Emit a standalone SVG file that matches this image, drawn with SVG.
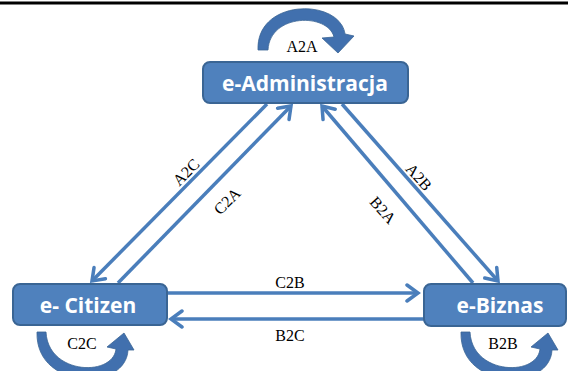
<svg xmlns="http://www.w3.org/2000/svg" width="568" height="371" viewBox="0 0 568 371">
<defs>
<marker id="ah" markerUnits="userSpaceOnUse" markerWidth="30" markerHeight="30" refX="14" refY="10" orient="auto" viewBox="0 0 30 30">
<path d="M3,2 L14,10 L3,18" fill="none" stroke="#4A7EBB" stroke-width="3.5" stroke-linecap="round" stroke-linejoin="miter"/>
</marker>
</defs>
<style>
.box{fill:#4F81BD;stroke:#3A6594;stroke-width:2}
.nt{font-family:"Open Sans","Liberation Sans",sans-serif;font-weight:bold;font-size:21px;fill:#fff;text-anchor:middle}
.conn{stroke:#4A7EBB;stroke-width:3.5;fill:none;marker-end:url(#ah)}
.lbl{font-family:"Liberation Serif","Times New Roman",serif;font-size:16px;fill:#000;text-anchor:middle}
.loop{fill:#4170AE;stroke:#3A6594;stroke-width:0.8}
</style>
<rect x="0" y="0" width="568" height="371" fill="#fff"/>
<line x1="0" y1="3" x2="568" y2="3" stroke="#000" stroke-width="3"/>
<g id="connectors">
<line class="conn" x1="267" y1="104" x2="92" y2="281"/>
<line class="conn" x1="118" y1="283" x2="291" y2="106"/>
<line class="conn" x1="473" y1="283" x2="322" y2="106"/>
<line class="conn" x1="342" y1="104" x2="498" y2="281"/>
<line class="conn" x1="167" y1="293" x2="418" y2="293"/>
<line class="conn" x1="424" y1="319" x2="171" y2="319"/>
<text class="lbl" transform="translate(186,172) rotate(-45)" dy="0.35em">A2C</text>
<text class="lbl" transform="translate(227,201) rotate(-45)" dy="0.35em">C2A</text>
<text class="lbl" transform="translate(383,210) rotate(48)" dy="0.35em">B2A</text>
<text class="lbl" transform="translate(419,177) rotate(48)" dy="0.35em">A2B</text>
<text class="lbl" x="290" y="288">C2B</text>
<text class="lbl" x="290" y="341">B2C</text>
</g>
<g id="loop-a2a">
<path class="loop" d="M258,50 C256,-2 340,-2 345,34 L354,36 L338,53 L322,38 L334,37 C328,13 270,13 268,50 Z"/>
<text class="lbl" x="302" y="52">A2A</text>
</g>
<g id="loop-c2c">
<path class="loop" d="M37,332 C35,390 126,392 128,350 L134,350 L124,333 L107,347 L116,349 C113,377 48,375 46,332 Z"/>
<text class="lbl" x="82" y="349">C2C</text>
</g>
<g id="loop-b2b">
<path class="loop" transform="translate(424,0)" d="M37,332 C35,390 126,392 128,350 L134,350 L124,333 L107,347 L116,349 C113,377 48,375 46,332 Z"/>
<text class="lbl" x="503" y="349">B2B</text>
</g>
<g id="node-admin">
<rect class="box" x="203" y="62" width="205" height="41" rx="7"/>
<text class="nt" x="305" y="91">e-Administracja</text>
</g>
<g id="node-citizen">
<rect class="box" x="13" y="284" width="154" height="41" rx="7"/>
<text class="nt" x="88" y="313">e- Citizen</text>
</g>
<g id="node-biznas">
<rect class="box" x="424" y="284" width="142" height="42" rx="7"/>
<text class="nt" x="500" y="313">e-Biznas</text>
</g>
</svg>
